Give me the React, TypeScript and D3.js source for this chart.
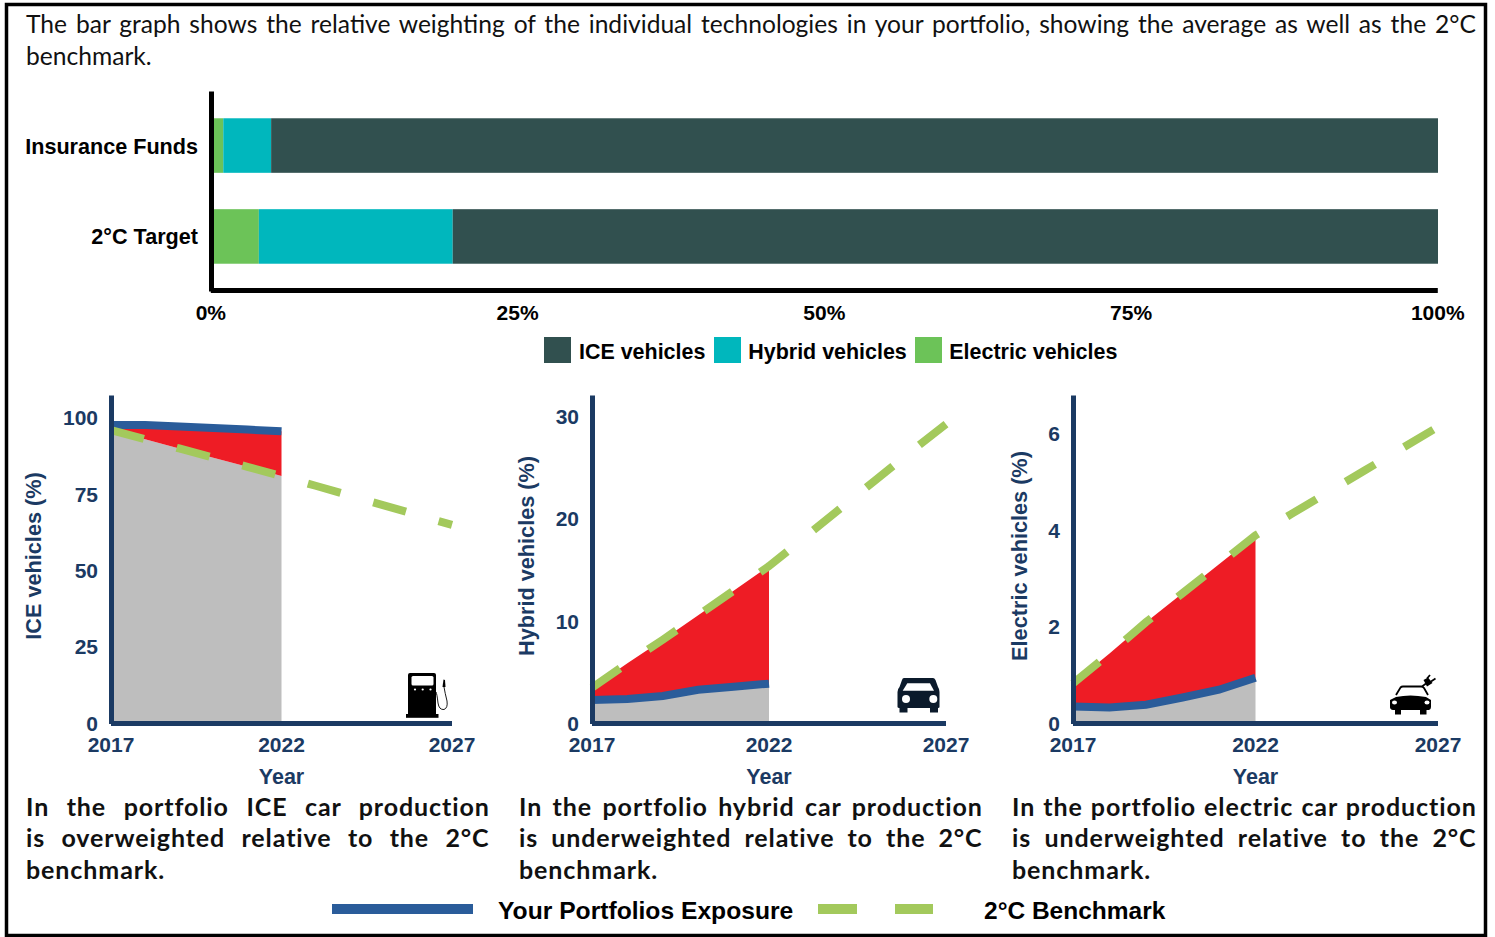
import React, { useEffect, useRef } from "react";
import * as d3 from "d3";

const categories = ["Insurance Funds", "2°C Target"];
const electricShare = [0.01, 0.039];
const hybridShare = [0.039, 0.158];
const iceShare = [0.951, 0.803];
const shareTicks = [0, 0.25, 0.5, 0.75, 1];

const years = [2017, 2018, 2019, 2020, 2021, 2022, 2023, 2024, 2025, 2026, 2027];
const yearTicks = [2017, 2022, 2027];

const iceBenchmark = [96, 93, 90, 87, 84, 81, 77.8, 74.6, 71.4, 68.2, 65];
const icePortfolio = [97.7, 97.7, 97.2, 96.7, 96.2, 95.6];
const hybridBenchmark = [3.5, 5.9, 8.2, 10.6, 13, 15.4, 18.2, 21, 23.8, 26.6, 29.3];
const hybridPortfolio = [2.3, 2.4, 2.7, 3.3, 3.6, 3.9];
const electricBenchmark = [0.83, 1.45, 2.1, 2.7, 3.3, 3.9, 4.35, 4.8, 5.25, 5.7, 6.15];
const electricPortfolio = [0.35, 0.33, 0.39, 0.54, 0.7, 0.95];

const NAVY = "#1b3a63";
const BLUE = "#2a5c9a";
const GREEN = "#a3c95c";
const RED = "#ee1c25";
const GREY = "#bebebe";
const barColors = { ice: "#31504f", hybrid: "#00b7bd", electric: "#6cc358" };

const BOLD = "'Liberation Sans', Arial, sans-serif";
const BODY = "Lato, 'Open Sans', sans-serif";

const measureCtx = document.createElement("canvas").getContext("2d")!;

// stretches the gaps between words so a line fills x0..x1, like LaTeX justified text
function Justified({ text, x0, x1, y, weight, size, tracking = 0 }: any) {
  measureCtx.font = `${weight} ${size}px Lato`;
  const gaps = text.split(" ").length - 1;
  const natural = measureCtx.measureText(text).width + tracking * text.length;
  const extra = x1 ? (x1 - x0 - natural) / gaps : 0;
  return (
    <text
      x={x0}
      y={y}
      fontFamily={BODY}
      fontSize={size}
      fontWeight={weight}
      fill="#111"
      wordSpacing={extra}
      letterSpacing={tracking}
    >
      {text}
    </text>
  );
}

function Axis({ axis, transform, color, width, font }: any) {
  const ref = useRef<SVGGElement>(null);
  useEffect(() => {
    const g = d3.select(ref.current!);
    g.call(axis);
    g.select(".domain").attr("stroke", color).attr("stroke-width", width);
    g.selectAll(".tick line").remove();
    g.selectAll(".tick text")
      .attr("fill", font.fill)
      .attr("font-family", BOLD)
      .attr("font-weight", "bold")
      .attr("font-size", font.size);
    if (font.dy) g.selectAll(".tick text").attr("dy", font.dy);
    g.attr("font-family", null).attr("font-size", null);
  }, []);
  return <g ref={ref} transform={transform} />;
}

function TopChart() {
  const x = d3.scaleLinear().domain([0, 1]).range([211, 1438]);
  const y = d3.scaleBand().domain(categories).range([91, 291]).paddingInner(0.4).paddingOuter(0.3);
  const rows = categories.map((c, i) => ({
    category: c,
    electric: electricShare[i],
    hybrid: hybridShare[i],
    ice: iceShare[i],
  }));
  const layers = d3.stack<any>().keys(["electric", "hybrid", "ice"])(rows);
  const legend = [
    { key: "ice", label: "ICE vehicles", x: 544 },
    { key: "hybrid", label: "Hybrid vehicles", x: 714 },
    { key: "electric", label: "Electric vehicles", x: 915 },
  ];
  return (
    <g>
      {layers.map((layer) => (
        <g key={layer.key} fill={(barColors as any)[layer.key]}>
          {layer.map((d, i) => (
            <rect key={i} x={x(d[0])} y={y(categories[i])} width={x(d[1]) - x(d[0])} height={y.bandwidth()} />
          ))}
        </g>
      ))}
      <Axis
        axis={d3.axisLeft(y).tickSize(0).tickPadding(13)}
        transform="translate(211,0)"
        color="#000"
        width={5}
        font={{ fill: "#000", size: 21.6, dy: "0.37em" }}
      />
      <Axis
        axis={d3
          .axisBottom(x)
          .tickValues(shareTicks)
          .tickFormat(d3.format(".0%") as any)
          .tickSize(0)
          .tickPadding(15)}
        transform="translate(-0.7,290)"
        color="#000"
        width={5}
        font={{ fill: "#000", size: 21 }}
      />
      {legend.map((d) => (
        <g key={d.key}>
          <rect x={d.x} y={337} width={27} height={26} fill={(barColors as any)[d.key]} />
          <text
            x={d.x + (d.key === "ice" ? 35 : 34.3)}
            y={359}
            fontFamily={BOLD}
            fontWeight="bold"
            fontSize={21.45}
            fill="#000"
          >
            {d.label}
          </text>
        </g>
      ))}
    </g>
  );
}

function Panel({ left, right, yMax, ticks, benchmark, portfolio, title, titleX, icon }: any) {
  const x = d3.scaleLinear().domain([2017, 2027]).range([left, right]);
  const y = d3.scaleLinear().domain([0, yMax]).range([723.5, 395]);
  const past = years.slice(0, portfolio.length);

  const grey = d3
    .area<number>()
    .x((d) => x(d))
    .y0(y(0))
    .y1((d, i) => y(Math.min(portfolio[i], benchmark[i])))(past);
  const gap = d3
    .area<number>()
    .x((d) => x(d))
    .y0((d, i) => y(portfolio[i]))
    .y1((d, i) => y(benchmark[i]))(past);
  const exposure = d3
    .line<number>()
    .x((d) => x(d))
    .y((d, i) => y(portfolio[i]))(past);
  const target = d3
    .line<number>()
    .x((d) => x(d))
    .y((d, i) => y(benchmark[i]))(years);

  return (
    <g>
      <path d={grey!} fill={GREY} />
      <path d={gap!} fill={RED} />
      <path d={exposure!} fill="none" stroke={BLUE} strokeWidth={8} />
      <path d={target!} fill="none" stroke={GREEN} strokeWidth={8} strokeDasharray="34 34" />
      <Axis
        axis={d3.axisLeft(y).tickValues(ticks).tickFormat(d3.format("d") as any).tickSize(0).tickPadding(13)}
        transform={`translate(${left},0)`}
        color={NAVY}
        width={5}
        font={{ fill: NAVY, size: 21 }}
      />
      <Axis
        axis={d3.axisBottom(x).tickValues(yearTicks).tickFormat(d3.format("d") as any).tickSize(0).tickPadding(14.5)}
        transform="translate(-0.5,723)"
        color={NAVY}
        width={5}
        font={{ fill: NAVY, size: 21 }}
      />
      <text
        transform={`translate(${titleX},556) rotate(-90)`}
        textAnchor="middle"
        dy="0.35em"
        fontFamily={BOLD}
        fontWeight="bold"
        fontSize={21.7}
        fill={NAVY}
      >
        {title}
      </text>
      <text x={x(2022)} y={784} textAnchor="middle" fontFamily={BOLD} fontWeight="bold" fontSize={21.5} fill={NAVY}>
        Year
      </text>
      {icon}
    </g>
  );
}

const PumpIcon = () => (
  <g>
    <path d="M410 673H434Q436 673 436 675V714H408V675Q408 673 410 673Z" fill="#000" />
    <rect x={411.5} y={676} width={22} height={9.5} rx={1.5} fill="#fff" />
    <g fill="#fff">
      <circle cx={415} cy={689.5} r={1.1} />
      <circle cx={422.7} cy={689.5} r={1.1} />
      <circle cx={430.5} cy={689.5} r={1.1} />
    </g>
    <rect x={406} y={714} width={32.5} height={3.8} fill="#000" />
    <path d="M436 692Q437 694 438 703Q439 710 444 709.5Q448 708 447 701Q445 693 444 687" fill="none" stroke="#000" strokeWidth={0.9} />
    <path d="M442.5 687L443.5 679.5L445 680L445.5 687Z" fill="#000" />
  </g>
);

const CarIcon = () => (
  <g>
    <path d="M904 678H933Q934.5 678 935.5 680L938 687Q939.5 689 939.5 692V707Q939.5 708 938 708V712.5H930V708H907.5V712.5H899.5V708Q897.5 708 897.5 707V692Q897.5 689 899.5 687L902 680Q902.5 678 904 678Z" fill="#0b1a2b" />
    <path d="M907.3 683.3H930L934 690.7H902.7Z" fill="#fff" />
    <circle cx={906} cy={699} r={4} fill="#fff" />
    <circle cx={933.3} cy={699} r={4} fill="#fff" />
  </g>
);

const PlugCarIcon = () => (
  <g>
    <path d="M1396 695L1400.5 687.5Q1401.5 686.5 1403 686.5H1421Q1423 686.5 1424 688L1428 695" fill="none" stroke="#000" strokeWidth={1.8} />
    <path d="M1396 697Q1410 694 1426 697L1431 700V707Q1431 709.5 1429 710H1393Q1390 709.5 1390 707V700Z" fill="#000" />
    <path d="M1395 710H1401V714.5H1395ZM1420 710H1426.5V714.5H1420Z" fill="#000" />
    <ellipse cx={1394.5} cy={702.5} rx={2.5} ry={2} fill="#fff" />
    <ellipse cx={1427} cy={702.5} rx={2.5} ry={2} fill="#fff" />
    <path d="M1422 686.5L1426 683.5" stroke="#000" strokeWidth={1.6} />
    <path d="M1423.5 680L1428 677.5L1432.5 683L1427 686.5Z" fill="#000" />
    <path d="M1427 678.5L1430 675M1431 681.5L1435.5 678.5" stroke="#000" strokeWidth={1.8} />
  </g>
);

export default function App() {
  return (
    <svg width={1495} height={937} style={{ position: "absolute", left: 0, top: 0, background: "#fff" }}>
      <rect x={6.5} y={4.5} width={1479} height={931} fill="none" stroke="#000" strokeWidth={3.5} />

      <Justified
        text="The bar graph shows the relative weighting of the individual technologies in your portfolio, showing the average as well as the 2°C"
        x0={26}
        x1={1479}
        y={33}
        weight={400}
        size={24.6}
      />
      <Justified text="benchmark." x0={26} y={65} weight={400} size={24.6} />

      <TopChart />

      <Panel left={111} right={452} yMax={107.5} ticks={[0, 25, 50, 75, 100]} benchmark={iceBenchmark} portfolio={icePortfolio} title="ICE vehicles (%)" titleX={33.5} icon={<PumpIcon />} />
      <Panel left={592} right={946} yMax={32.15} ticks={[0, 10, 20, 30]} benchmark={hybridBenchmark} portfolio={hybridPortfolio} title="Hybrid vehicles (%)" titleX={526.5} icon={<CarIcon />} />
      <Panel left={1073} right={1438} yMax={6.81} ticks={[0, 2, 4, 6]} benchmark={electricBenchmark} portfolio={electricPortfolio} title="Electric vehicles (%)" titleX={1019} icon={<PlugCarIcon />} />

      <Justified text="In the portfolio ICE car production" x0={26} x1={490} y={816} weight={700} size={25} tracking={0.9} />
      <Justified text="is overweighted relative to the 2°C" x0={26} x1={490} y={847} weight={700} size={25} tracking={0.9} />
      <Justified text="benchmark." x0={26} y={879} weight={700} size={25} tracking={0.9} />
      <Justified text="In the portfolio hybrid car production" x0={519} x1={983} y={816} weight={700} size={25} tracking={0.9} />
      <Justified text="is underweighted relative to the 2°C" x0={519} x1={983} y={847} weight={700} size={25} tracking={0.9} />
      <Justified text="benchmark." x0={519} y={879} weight={700} size={25} tracking={0.9} />
      <Justified text="In the portfolio electric car production" x0={1012} x1={1477} y={816} weight={700} size={25} tracking={0.9} />
      <Justified text="is underweighted relative to the 2°C" x0={1012} x1={1477} y={847} weight={700} size={25} tracking={0.9} />
      <Justified text="benchmark." x0={1012} y={879} weight={700} size={25} tracking={0.9} />

      <rect x={332} y={904} width={141} height={10} fill={BLUE} />
      <text x={498} y={919} fontFamily={BOLD} fontWeight="bold" fontSize={24.65} fill="#000">
        Your Portfolios Exposure
      </text>
      <rect x={818} y={904} width={39} height={10} fill={GREEN} />
      <rect x={895} y={904} width={38} height={10} fill={GREEN} />
      <text x={984} y={919} fontFamily={BOLD} fontWeight="bold" fontSize={24.5} fill="#000">
        2°C Benchmark
      </text>
    </svg>
  );
}
